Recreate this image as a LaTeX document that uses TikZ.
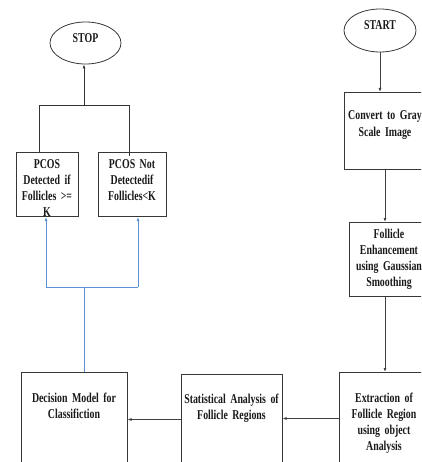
\documentclass[tikz,border=0pt]{standalone}
\usepackage{fontspec}
\setmainfont{Liberation Serif}[FakeStretch=0.73]
\usepackage{xcolor}
\usetikzlibrary{shapes.geometric,positioning}
\definecolor{box-line}{RGB}{55,55,55}
\definecolor{link-blue}{RGB}{95,145,215}
\usetikzlibrary{arrows.meta}
\tikzset{>={Latex[width=3pt,length=4pt]}}
\tikzset{
  proc/.style={draw=box-line, line width=1pt, anchor=north, align=center,
    inner xsep=3pt, inner ysep=0pt, text=black!90,
    font=\bfseries\fontsize{13.5}{16.3}\selectfont},
  term/.style={draw=box-line, line width=0.8pt, ellipse, inner sep=0pt,
    text height=9pt, text depth=10.4pt, text=black!90,
    font=\bfseries\fontsize{13.5}{16}\selectfont},
}

\begin{document}
\begin{tikzpicture}[x=1pt,y=-1pt]
    \useasboundingbox (0,0) rectangle (421,462);
    \clip (0,0) rectangle (421,462);

    \node[term, minimum width=72pt, minimum height=43pt] (start) at (380,30.5) {START};
    \node[term, minimum width=71pt, minimum height=42pt] (stop) at (85.5,43) {STOP};

    \node[proc, text width=76pt, text height=27.5pt, text depth=49.5pt] (gray) at (385,92)
        {Convert to Gray\\Scale Image};
    \node[proc, text width=74pt, text height=15.5pt, text depth=58.5pt] (enhance) at (389,222)
        {Follicle\\Enhancement\\using Gaussian\\Smoothing};
    \node[proc, text width=84pt, text height=29.5pt, text depth=62.5pt] (extract) at (384,372)
        {Extraction of\\Follicle Region\\using object\\Analysis};
    \node[proc, text width=95pt, text height=28.5pt, text depth=61.5pt] (stats) at (231.5,374)
        {Statistical Analysis of\\Follicle Regions};
    \node[proc, text width=100pt, text height=29.5pt, text depth=62.5pt] (decide) at (74,372)
        {Decision Model for\\Classifiction};
    \node[proc, text width=56pt, text height=15.5pt, text depth=48.5pt] (pcos-yes) at (47,152)
        {PCOS\\Detected if\\Follicles >=\\K};
    \node[proc, text width=62pt, text height=15.5pt, text depth=48.5pt] (pcos-no) at (132,152)
        {PCOS Not\\Detectedif\\Follicles<K};

    % main flow
    \draw [->, line width=0.9pt, black!75] (start) -- (start.south |- gray.north);
    \draw [->, line width=0.9pt, black!75] (gray.south) -- (gray.south |- enhance.north);
    \draw [->, line width=0.9pt, black!75] (gray.south |- enhance.south) -- (gray.south |- extract.north);
    \draw [->, line width=0.9pt, black!75] (extract.west) -- (extract.west -| stats.east);
    \draw [->, line width=0.9pt, black!75] (stats.west) -- (stats.west -| decide.east);

    % outcome to stop
    \coordinate (top-left) at (39,105);
    \coordinate (top-mid) at (84,105);
    \coordinate (top-right) at (129,105);
    \draw [line width=0.9pt, black!80] (top-left |- pcos-yes.north) -- (top-left) -- (top-right)
        -- ([yshift=-4pt]top-right |- pcos-no.north);
    \draw [->, line width=0.9pt, black!80] (top-mid) -- (top-mid |- stop.south);

    % decision to outcomes
    \coordinate (fork-mid) at (84,287);
    \coordinate (fork-left) at (46,287);
    \coordinate (fork-right) at (138,287);
    \draw [link-blue, line width=0.9pt] (decide.north -| fork-mid) -- (fork-mid);
    \draw [link-blue, line width=0.9pt] (fork-left) -- (fork-right);
    \draw [->, link-blue, line width=0.9pt] (fork-left) -- (fork-left |- pcos-yes.south);
    \draw [->, link-blue, line width=0.9pt] (fork-right) -- (fork-right |- pcos-no.south);
\end{tikzpicture}
\end{document}
